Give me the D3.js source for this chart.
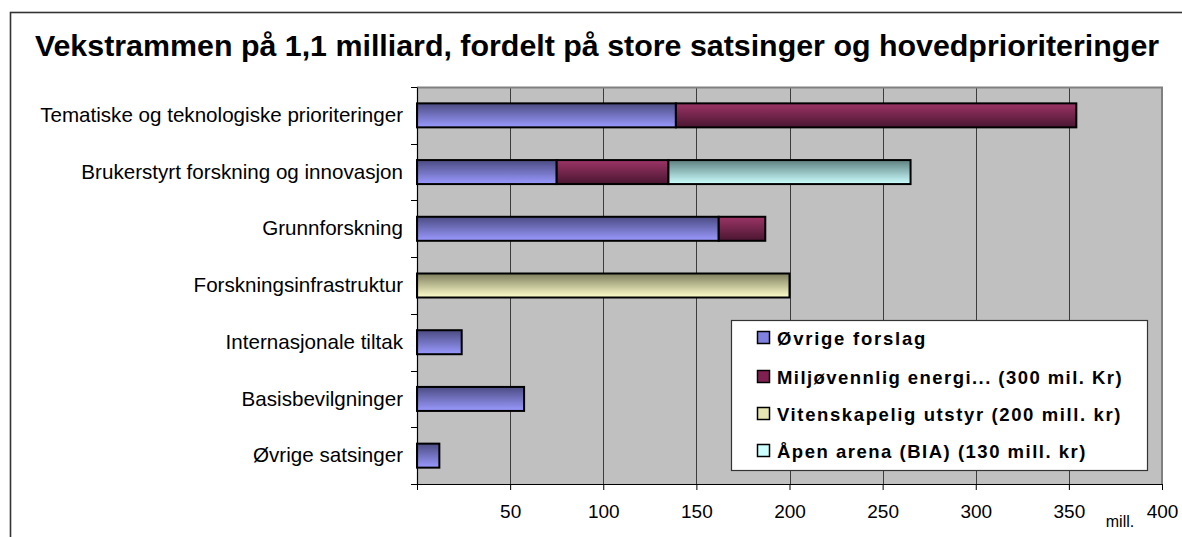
<!DOCTYPE html>
<html><head><meta charset="utf-8">
<script src="https://cdn.jsdelivr.net/npm/d3@7"></script>
<style>
html,body{margin:0;padding:0;background:#fff;overflow:hidden}
svg{display:block;font-family:"Liberation Sans",Arial,sans-serif}
</style></head>
<body>
<svg id="c" width="1182" height="537"></svg>
<script>
const title = "Vekstrammen på 1,1 milliard, fordelt på store satsinger og hovedprioriteringer";
const categories = ["Tematiske og teknologiske prioriteringer","Brukerstyrt forskning og innovasjon","Grunnforskning","Forskningsinfrastruktur","Internasjonale tiltak","Basisbevilgninger","Øvrige satsinger"];
const seriesNames = ["Øvrige forslag","Miljøvennlig energi... (300 mil. Kr)","Vitenskapelig utstyr (200 mill. kr)","Åpen arena (BIA) (130 mill. kr)"];
const ovrigeForslag = [139, 75, 162, 0, 24, 57.5, 12];
const miljovennlig  = [215, 60, 25, 0, 0, 0, 0];
const vitenskapelig = [0, 0, 0, 200, 0, 0, 0];
const apenArena     = [0, 130, 0, 0, 0, 0, 0];
const xTicks = [0, 50, 100, 150, 200, 250, 300, 350, 400];
const xTickLabels = ["", "50", "100", "150", "200", "250", "300", "350", "400"];
const unitLabel = "mill.";

const seriesValues = [ovrigeForslag, miljovennlig, vitenskapelig, apenArena];
const grads = [["#4b4b82","#9a9aff"],["#9c3466","#4a1630"],["#7e7e5e","#ffffcc"],["#5e8080","#ccffff"]];
const legendFill = ["#8080e0","#802050","#e6e6b0","#ccffff"];

const svg = d3.select("#c");
const defs = svg.append("defs");
grads.forEach((g,i)=>{
  const lg = defs.append("linearGradient").attr("id","g"+i).attr("x1",0).attr("y1",0).attr("x2",0).attr("y2",1);
  lg.append("stop").attr("offset","0%").attr("stop-color",g[0]);
  lg.append("stop").attr("offset","100%").attr("stop-color",g[1]);
});

// outer frame
svg.append("rect").attr("x",10.5).attr("y",12.5).attr("width",1200).attr("height",600)
  .attr("fill","#fff").attr("stroke","#333").attr("stroke-width",1.6);

// title
const t = svg.append("text").attr("x",597).attr("y",56).attr("text-anchor","middle")
  .attr("font-weight","bold").style("font-size","26px").attr("fill","#000").text(title);
const tw = t.node().getComputedTextLength();
t.style("font-size", (26*1125/tw)+"px");

const L=417, R=1162, T=87, B=484;
const x = d3.scaleLinear().domain([0,400]).range([L,R]);
const y = d3.scaleBand().domain(categories).range([T,B]);

// plot bg
svg.append("rect").attr("x",L).attr("y",T).attr("width",R-L).attr("height",B-T).attr("fill","#c0c0c0");
// grid
svg.append("g").selectAll("line").data(xTicks.filter(v=>v>0&&v<400)).join("line")
  .attr("x1",d=>Math.round(x(d))+0.5).attr("x2",d=>Math.round(x(d))+0.5).attr("y1",T).attr("y2",B)
  .attr("stroke","#3c3c3c").attr("stroke-width",1);
// plot border top/right
svg.append("path").attr("d",`M${L},${T+0.5}H${R}V${B}`).attr("fill","none").attr("stroke","#808080").attr("stroke-width",2);

// bars
const stack = categories.map((c,i)=>{
  let acc=0; const segs=[];
  seriesValues.forEach((s,si)=>{ const v=s[i]; if(v>0){segs.push({c,si,x0:acc,x1:acc+v}); acc+=v;} });
  return segs;
}).flat();
const bh = 24;
svg.append("g").selectAll("rect").data(stack).join("rect")
  .attr("x",d=>x(d.x0)).attr("width",d=>x(d.x1)-x(d.x0))
  .attr("y",d=>y(d.c)+y.bandwidth()/2-bh/2).attr("height",bh)
  .attr("fill",d=>`url(#g${d.si})`).attr("stroke","#000").attr("stroke-width",2);

// y axis
const ya = svg.append("g").attr("transform",`translate(${L},0)`)
  .call(d3.axisLeft(y).tickSize(0).tickPadding(14));
ya.select(".domain").attr("stroke","#000").attr("stroke-width",1.2);
ya.selectAll("text").style("font-size","16px").attr("fill","#000").style("font-family","Liberation Sans, Arial, sans-serif");
const longest = ya.selectAll("text").nodes()[0].getComputedTextLength();
const fs = 16*363/longest;
ya.selectAll("text").style("font-size",fs+"px");
// boundary ticks
const bounds = categories.map(c=>y(c)).concat([B]);
svg.append("g").selectAll("line").data(bounds).join("line")
  .attr("x1",L-6).attr("x2",L).attr("y1",d=>Math.round(d)+0.5).attr("y2",d=>Math.round(d)+0.5)
  .attr("stroke","#000").attr("stroke-width",1);

// x axis
const xa = svg.append("g").attr("transform",`translate(0,${B})`)
  .call(d3.axisBottom(x).tickValues(xTicks).tickFormat((d,i)=>xTickLabels[i]).tickSize(6).tickSizeOuter(0).tickPadding(15));
xa.select(".domain").attr("stroke","#000").attr("stroke-width",1.2);
xa.selectAll(".tick line").attr("stroke","#000");
xa.selectAll("text").style("font-size","19px").attr("fill","#000").style("font-family","Liberation Sans, Arial, sans-serif");
svg.append("text").attr("x",1120).attr("y",527).attr("text-anchor","middle").style("font-size","16px").attr("fill","#000").text(unitLabel);

// legend
const lg = svg.append("g");
lg.append("rect").attr("x",731.5).attr("y",320.5).attr("width",416).attr("height",150)
  .attr("fill","#fff").attr("stroke","#333").attr("stroke-width",1.2);
const rowsY = [338, 377, 414, 451];
const textLens = [150, 346, 345, 310];
seriesNames.forEach((n,i)=>{
  lg.append("rect").attr("x",757.5).attr("y",rowsY[i]-6.5).attr("width",12).attr("height",12)
    .attr("fill",legendFill[i]).attr("stroke","#000").attr("stroke-width",1.5);
  const tx = lg.append("text").attr("x",777).attr("y",rowsY[i]+7).attr("font-weight","bold").style("font-size","18.5px")
    .attr("fill","#000").text(n);
  const w = tx.node().getComputedTextLength();
  tx.style("letter-spacing", ((textLens[i]-w)/(n.length))+"px");
});
</script>
</body></html>
